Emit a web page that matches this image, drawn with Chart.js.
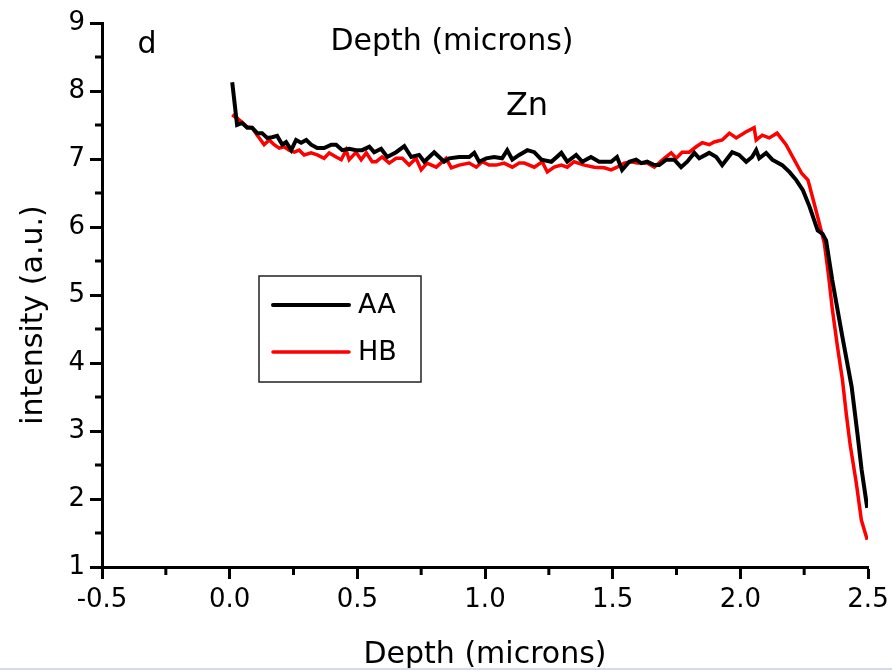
<!DOCTYPE html>
<html lang="en">
<head>
    <meta charset="UTF-8">
    <title>Zn depth profile</title>
    <script src="https://cdn.jsdelivr.net/npm/chart.js"></script>
    <style>
        body { margin: 0; background: #fff; }
        #wrap { width: 892px; height: 670px; position: relative; }
    </style>
</head>
<body>
    <div id="wrap"><canvas id="chart" width="892" height="670"></canvas></div>

    <script>
        // AA series (depth in microns, intensity a.u.)
        const depthAA = [0.010, 0.029, 0.049, 0.069, 0.088, 0.108, 0.127, 0.147, 0.166, 0.186,
            0.206, 0.221, 0.241, 0.260, 0.280, 0.300, 0.319, 0.343, 0.370, 0.398,
            0.417, 0.441, 0.468, 0.495, 0.519, 0.547, 0.566, 0.593, 0.617, 0.652,
            0.684, 0.711, 0.742, 0.762, 0.801, 0.840, 0.860, 0.899, 0.938, 0.958,
            0.977, 1.005, 1.036, 1.067, 1.087, 1.107, 1.134, 1.166, 1.193, 1.221,
            1.260, 1.299, 1.322, 1.357, 1.381, 1.415, 1.447, 1.494, 1.517, 1.537,
            1.565, 1.592, 1.612, 1.635, 1.663, 1.682, 1.710, 1.741, 1.768, 1.792,
            1.820, 1.839, 1.878, 1.906, 1.929, 1.968, 1.995, 2.023, 2.046, 2.062,
            2.074, 2.101, 2.125, 2.164, 2.192, 2.219, 2.245, 2.271, 2.303, 2.322,
            2.336, 2.360, 2.399, 2.436, 2.459, 2.475, 2.497];
        const intensityAA = [8.13, 7.50, 7.53, 7.46, 7.46, 7.38, 7.38, 7.31, 7.32, 7.34,
            7.21, 7.25, 7.13, 7.28, 7.24, 7.28, 7.21, 7.16, 7.16, 7.21,
            7.21, 7.13, 7.15, 7.13, 7.13, 7.18, 7.10, 7.15, 7.03, 7.10,
            7.19, 7.03, 7.06, 6.96, 7.10, 6.96, 7.01, 7.03, 7.03, 7.09,
            6.96, 7.01, 7.03, 7.01, 7.13, 6.99, 7.06, 7.13, 7.10, 6.99,
            6.96, 7.09, 6.96, 7.06, 6.96, 7.03, 6.96, 6.96, 7.03, 6.84,
            6.96, 6.99, 6.94, 6.96, 6.91, 6.91, 6.99, 6.99, 6.88, 6.96,
            7.09, 7.01, 7.09, 7.03, 6.91, 7.10, 7.06, 6.96, 7.03, 7.13,
            7.01, 7.09, 6.99, 6.91, 6.81, 6.69, 6.54, 6.30, 5.95, 5.90,
            5.80, 5.22, 4.40, 3.65, 2.95, 2.43, 1.87];

        // HB series
        const depthHB = [0.010, 0.029, 0.049, 0.069, 0.088, 0.108, 0.135, 0.155, 0.174, 0.194,
            0.213, 0.233, 0.253, 0.272, 0.292, 0.319, 0.343, 0.370, 0.390, 0.417,
            0.437, 0.456, 0.468, 0.495, 0.515, 0.535, 0.558, 0.574, 0.597, 0.625,
            0.652, 0.676, 0.703, 0.730, 0.750, 0.773, 0.809, 0.848, 0.868, 0.899,
            0.938, 0.966, 0.989, 1.016, 1.044, 1.075, 1.107, 1.134, 1.154, 1.193,
            1.224, 1.244, 1.271, 1.299, 1.322, 1.349, 1.389, 1.428, 1.467, 1.494,
            1.517, 1.545, 1.573, 1.596, 1.635, 1.663, 1.702, 1.729, 1.749, 1.772,
            1.800, 1.827, 1.851, 1.878, 1.898, 1.929, 1.957, 1.984, 2.023, 2.054,
            2.062, 2.086, 2.113, 2.144, 2.179, 2.240, 2.265, 2.289, 2.309, 2.329,
            2.345, 2.360, 2.380, 2.400, 2.415, 2.430, 2.454, 2.474, 2.497];
        const intensityHB = [7.65, 7.60, 7.54, 7.47, 7.46, 7.35, 7.21, 7.28, 7.21, 7.16,
            7.18, 7.13, 7.10, 7.13, 7.06, 7.09, 7.06, 7.01, 7.09, 7.03,
            6.99, 7.13, 6.99, 7.10, 6.99, 7.09, 6.96, 6.96, 7.03, 6.94,
            7.01, 7.01, 6.91, 7.01, 6.84, 6.94, 6.88, 7.01, 6.87, 6.91,
            6.94, 6.88, 6.96, 6.91, 6.91, 6.94, 6.88, 6.94, 6.94, 6.88,
            6.96, 6.81, 6.88, 6.91, 6.88, 6.96, 6.91, 6.88, 6.87, 6.84,
            6.88, 6.94, 6.96, 6.94, 6.94, 6.88, 7.01, 7.09, 7.01, 7.10,
            7.10, 7.18, 7.24, 7.21, 7.25, 7.28, 7.38, 7.31, 7.40, 7.46,
            7.28, 7.35, 7.31, 7.38, 7.21, 6.79, 6.69, 6.35, 6.06, 5.76,
            5.30, 4.80, 4.25, 3.75, 3.25, 2.80, 2.24, 1.69, 1.40];

        const seriesLabels = ['AA', 'HB'];
        const xTicks = [-0.5, 0.0, 0.5, 1.0, 1.5, 2.0, 2.5];
        const yTicks = [1, 2, 3, 4, 5, 6, 7, 8, 9];
        const xMinor = [-0.25, 0.25, 0.75, 1.25, 1.75, 2.25];
        const yMinor = [1.5, 2.5, 3.5, 4.5, 5.5, 6.5, 7.5, 8.5];

        const FONT = 'DejaVu Sans';

        function toPoints(xs, ys) {
            return xs.map((x, i) => ({ x: x, y: ys[i] }));
        }

        // minor ticks, free text and the boxed legend
        const extras = {
            id: 'extras',
            afterDraw(chart) {
                const c = chart.ctx;
                const xs = chart.scales.x, ys = chart.scales.y;
                const area = chart.chartArea;
                c.save();
                c.strokeStyle = '#000';
                c.lineWidth = 3;
                c.beginPath();
                xMinor.forEach(v => {
                    const px = xs.getPixelForValue(v);
                    c.moveTo(px, area.bottom);
                    c.lineTo(px, area.bottom + 8);
                });
                yMinor.forEach(v => {
                    const py = ys.getPixelForValue(v);
                    c.moveTo(area.left, py);
                    c.lineTo(area.left - 7, py);
                });
                c.stroke();

                c.fillStyle = '#000';
                c.textAlign = 'center';
                c.textBaseline = 'alphabetic';
                c.font = '30px ' + FONT;
                c.fillText('Depth (microns)', 452, 50);
                c.font = '32px ' + FONT;
                c.fillText('Zn', 527, 115);
                c.font = '30px ' + FONT;
                c.fillText('d', 147, 53);

                c.font = '30px ' + FONT;
                c.fillText('Depth (microns)', 485, 663);
                c.save();
                c.translate(42, 315);
                c.rotate(-Math.PI / 2);
                c.fillText('intensity (a.u.)', 0, 0);
                c.restore();

                // legend
                c.lineWidth = 1.5;
                c.strokeStyle = '#222';
                c.strokeRect(259, 276, 162, 106);
                const rows = [305, 352];
                c.textBaseline = 'middle';
                chart.data.datasets.forEach((ds, i) => {
                    c.strokeStyle = ds.borderColor;
                    c.lineWidth = ds.borderWidth;
                    c.lineCap = 'round';
                    c.beginPath();
                    c.moveTo(273, rows[i]);
                    c.lineTo(349, rows[i]);
                    c.stroke();
                    c.fillStyle = '#000';
                    c.textAlign = 'left';
                    c.font = '27px ' + FONT;
                    c.fillText(ds.label, 358, rows[i] + 1);
                });

                c.fillStyle = '#d3daef';
                c.fillRect(0, 668, 892, 2);
                c.restore();
            }
        };

        const ctx = document.getElementById('chart').getContext('2d');
        const chart = new Chart(ctx, {
            type: 'line',
            data: {
                datasets: [{
                    label: seriesLabels[0],
                    data: toPoints(depthAA, intensityAA),
                    borderColor: '#000000',
                    borderWidth: 4,
                    pointRadius: 0,
                    tension: 0
                }, {
                    label: seriesLabels[1],
                    data: toPoints(depthHB, intensityHB),
                    borderColor: '#ff0000',
                    borderWidth: 3.5,
                    pointRadius: 0,
                    tension: 0
                }]
            },
            options: {
                responsive: false,
                animation: false,
                layout: { padding: { top: 23, right: 24, left: 0, bottom: 0 } },
                plugins: {
                    legend: { display: false },
                    tooltip: { enabled: false }
                },
                scales: {
                    x: {
                        type: 'linear',
                        min: -0.5,
                        max: 2.5,
                        afterBuildTicks: s => { s.ticks = xTicks.map(v => ({ value: v })); },
                        afterFit: s => { s.height = 103; s.paddingRight = 0; s.paddingLeft = 0; },
                        border: { display: true, color: '#000', width: 3 },
                        grid: { drawOnChartArea: false, drawTicks: true, tickLength: 12, tickWidth: 3, tickColor: '#000' },
                        ticks: {
                            color: '#000',
                            padding: 6,
                            maxRotation: 0,
                            font: { family: FONT, size: 26 },
                            callback: v => v.toFixed(1)
                        }
                    },
                    y: {
                        type: 'linear',
                        min: 1,
                        max: 9,
                        afterBuildTicks: s => { s.ticks = yTicks.map(v => ({ value: v })); },
                        afterFit: s => { s.width = 102; s.paddingTop = 0; s.paddingBottom = 0; },
                        border: { display: true, color: '#000', width: 3 },
                        grid: { drawOnChartArea: false, drawTicks: true, tickLength: 12, tickWidth: 3, tickColor: '#000' },
                        ticks: {
                            color: '#000',
                            padding: 5,
                            font: { family: FONT, size: 26 },
                            callback: v => String(v)
                        }
                    }
                }
            },
            plugins: [extras]
        });
    </script>
</body>
</html>
